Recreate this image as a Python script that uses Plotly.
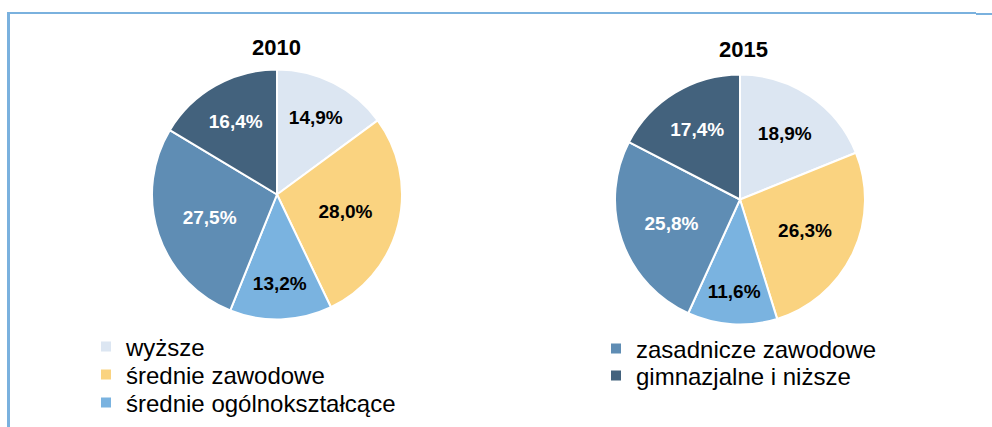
import plotly.graph_objects as go

W, H = 992, 427

categories = ["wyższe", "średnie zawodowe", "średnie ogólnokształcące",
              "zasadnicze zawodowe", "gimnazjalne i niższe"]
values_2010 = [14.9, 28.0, 13.2, 27.5, 16.4]
values_2015 = [18.9, 26.3, 11.6, 25.8, 17.4]
years = ["2010", "2015"]

colors = ["#DCE6F2", "#FAD380", "#7AB3E0", "#5F8DB4", "#43627D"]
label_colors = ["#000000", "#000000", "#000000", "#FFFFFF", "#FFFFFF"]

FONT = "Liberation Sans, Arial, sans-serif"


def fmt(v):
    return f"{v:.1f}%".replace(".", ",")


def px_x(x):
    return x / W


def px_y(y):
    return 1 - y / H


fig = go.Figure()

pies = [
    (values_2010, (277, 194.5)),
    (values_2015, (740, 199.5)),
]
R = 125
for vals, (cx, cy) in pies:
    fig.add_trace(go.Pie(
        labels=categories,
        values=vals,
        text=[fmt(v) for v in vals],
        textinfo="text",
        textposition="inside",
        insidetextorientation="horizontal",
        sort=False,
        direction="clockwise",
        rotation=0,
        marker=dict(colors=colors, line=dict(color="white", width=2)),
        textfont=dict(family=FONT, size=19, color=label_colors, weight="bold"),
        domain=dict(x=[px_x(cx - R), px_x(cx + R)],
                    y=[px_y(cy + R), px_y(cy - R)]),
        showlegend=False,
        hoverinfo="label+text",
    ))

# legend entries (one legend per row for precise placement)
legend_rows = [
    (0, 86, 347), (1, 86, 375), (2, 86, 403),
    (3, 596, 349), (4, 596, 376),
]
layout_legends = {}
for i, (ci, lx, ly) in enumerate(legend_rows):
    key = "legend" if i == 0 else f"legend{i+1}"
    fig.add_trace(go.Scatter(
        x=[None], y=[None], mode="markers", name=categories[ci],
        marker=dict(symbol="square", size=10, color=colors[ci]),
        legend=key, showlegend=True,
    ))
    layout_legends[key] = dict(
        x=px_x(lx), y=px_y(ly), xanchor="left", yanchor="middle",
        bgcolor="rgba(0,0,0,0)", borderwidth=0,
        font=dict(family=FONT, size=24, color="#000000"),
        itemwidth=30,
    )

# titles
title_pos = [(276, 47), (743, 49)]
annotations = []
for yr, (tx, ty) in zip(years, title_pos):
    annotations.append(dict(
        text=f"<b>{yr}</b>", x=px_x(tx), y=px_y(ty), xref="paper", yref="paper",
        showarrow=False, xanchor="center", yanchor="middle",
        font=dict(family=FONT, size=22, color="#000000"),
    ))

border_color = "#7AB1DE"
shapes = [
    dict(type="line", xref="paper", yref="paper",
         x0=px_x(8), x1=px_x(976), y0=px_y(13), y1=px_y(13),
         line=dict(color=border_color, width=2)),
    dict(type="line", xref="paper", yref="paper",
         x0=px_x(976), x1=px_x(992), y0=px_y(14), y1=px_y(14),
         line=dict(color=border_color, width=2)),
    dict(type="line", xref="paper", yref="paper",
         x0=px_x(8.5), x1=px_x(8.5), y0=px_y(12), y1=0,
         line=dict(color=border_color, width=3)),
]

fig.update_layout(
    width=W, height=H,
    margin=dict(l=0, r=0, t=0, b=0),
    paper_bgcolor="white", plot_bgcolor="white",
    xaxis=dict(visible=False), yaxis=dict(visible=False),
    annotations=annotations, shapes=shapes,
    font=dict(family=FONT),
    **layout_legends,
)

fig.write_html(
    "out.html",
    config={"displayModeBar": False},
    post_script="document.body.style.margin='0';document.body.style.overflow='hidden';",
)
